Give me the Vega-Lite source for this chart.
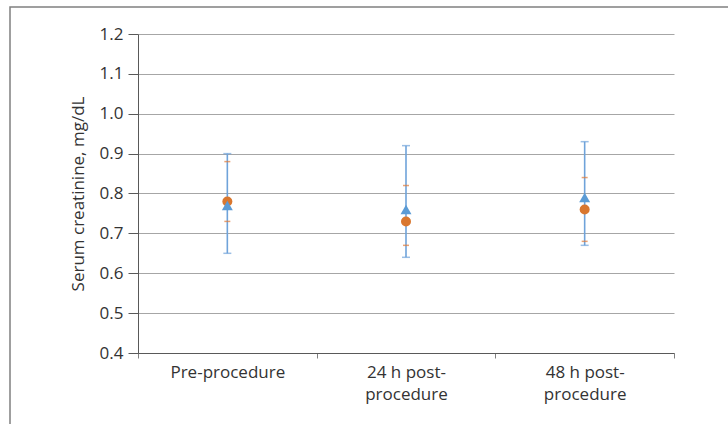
{
  "$schema": "https://vega.github.io/schema/vega-lite/v6.json",
  "width": 724,
  "height": 423,
  "autosize": {"type": "none"},
  "padding": {"left": 10, "top": 7, "right": -6, "bottom": -6},
  "background": "white",
  "config": {
    "view": {"stroke": "#808080", "strokeWidth": 1.5},
    "font": "Open Sans",
    "axis": {"labelFont": "Open Sans", "titleFont": "Open Sans"}
  },
  "data": {"values": [
    {"cat": "Pre-procedure", "series": "blue", "mean": 0.77, "lo": 0.65, "hi": 0.90},
    {"cat": "24 h post-procedure", "series": "blue", "mean": 0.76, "lo": 0.64, "hi": 0.92},
    {"cat": "48 h post-procedure", "series": "blue", "mean": 0.79, "lo": 0.67, "hi": 0.93},
    {"cat": "Pre-procedure", "series": "orange", "mean": 0.78, "lo": 0.73, "hi": 0.88},
    {"cat": "24 h post-procedure", "series": "orange", "mean": 0.73, "lo": 0.67, "hi": 0.82},
    {"cat": "48 h post-procedure", "series": "orange", "mean": 0.76, "lo": 0.68, "hi": 0.84}
  ]},
  "encoding": {
    "x": {"field": "cat", "type": "nominal",
      "sort": ["Pre-procedure", "24 h post-procedure", "48 h post-procedure"],
      "scale": {"type": "band", "range": [128, 664], "paddingInner": 0, "paddingOuter": 0},
      "axis": {
        "title": null,
        "offset": -77,
        "labelAngle": 0,
        "tickBand": "extent",
        "tickSize": 5,
        "domainColor": "#595959",
        "tickColor": "#808080",
        "labelColor": "#333333",
        "labelFontSize": 17,
        "labelPadding": 6,
        "labelLineHeight": 22,
        "grid": false,
        "labelExpr": "isString(datum.value) && indexof(datum.value, 'post') > 0 ? [slice(datum.value, 0, indexof(datum.value, 'post') + 5), 'procedure'] : datum.label"
      }
    }
  },
  "layer": [
    {
      "transform": [{"filter": "datum.series == 'blue'"}],
      "mark": {"type": "rule", "stroke": "#6FA3DA", "strokeWidth": 1.6},
      "encoding": {
        "y": {"field": "lo", "type": "quantitative",
          "scale": {"domain": [0.4, 1.2], "range": [346, 27], "nice": false, "zero": false},
          "axis": {
            "values": [0.4, 0.5, 0.6, 0.7, 0.8, 0.9, 1.0, 1.1, 1.2],
            "format": ".1f",
            "offset": -128,
            "grid": true,
            "gridColor": "#A6A6A6",
            "gridWidth": 1,
            "tickSize": 10,
            "labelPadding": 5,
            "domainColor": "#595959",
            "tickColor": "#595959",
            "labelColor": "#333333",
            "labelFontSize": 17,
            "title": "Serum creatinine, mg/dL",
            "titleFontSize": 17,
            "titleFontWeight": "normal",
            "titleColor": "#333333",
            "titlePadding": 12
          }
        },
        "y2": {"field": "hi"}
      }
    },
    {
      "transform": [{"filter": "datum.series == 'blue'"}],
      "mark": {"type": "tick", "color": "#6FA3DA", "thickness": 1.5, "size": 8, "orient": "horizontal"},
      "encoding": {"y": {"field": "lo", "type": "quantitative"}}
    },
    {
      "transform": [{"filter": "datum.series == 'blue'"}],
      "mark": {"type": "tick", "color": "#6FA3DA", "thickness": 1.5, "size": 8, "orient": "horizontal"},
      "encoding": {"y": {"field": "hi", "type": "quantitative"}}
    },
    {
      "transform": [{"filter": "datum.series == 'orange'"}],
      "mark": {"type": "tick", "color": "#E07B39", "thickness": 1.5, "size": 6, "orient": "horizontal"},
      "encoding": {"y": {"field": "lo", "type": "quantitative"}}
    },
    {
      "transform": [{"filter": "datum.series == 'orange'"}],
      "mark": {"type": "tick", "color": "#E07B39", "thickness": 1.5, "size": 6, "orient": "horizontal"},
      "encoding": {"y": {"field": "hi", "type": "quantitative"}}
    },
    {
      "transform": [{"filter": "datum.series == 'orange'"}],
      "mark": {"type": "point", "shape": "circle", "filled": true, "color": "#D9772F", "opacity": 1, "size": 100},
      "encoding": {"y": {"field": "mean", "type": "quantitative"}}
    },
    {
      "transform": [{"filter": "datum.series == 'blue'"}],
      "mark": {"type": "point", "shape": "triangle-up", "filled": true, "color": "#5B9BD5", "opacity": 1, "size": 120},
      "encoding": {"y": {"field": "mean", "type": "quantitative"}}
    }
  ]
}
